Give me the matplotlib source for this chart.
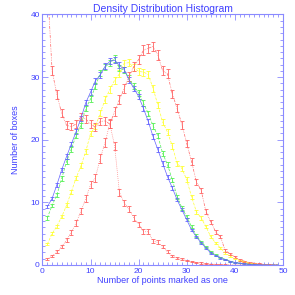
import numpy as np
import matplotlib
matplotlib.use('Agg')
import matplotlib.pyplot as plt
from matplotlib.ticker import MultipleLocator

plt.rcParams['font.family'] = ['Liberation Sans', 'DejaVu Sans']

# points marked as one (x) for every series
n_points = np.arange(1, 50)

blue_y = [9.3, 10.6, 12.8, 15.2, 17.3, 19.3, 21.3, 23.4, 25.9, 27.6,
          29.4, 30.3, 31.7, 32.5, 32.7, 31.9, 31.2, 29.5, 28.2, 26.9,
          25.0, 22.9, 20.5, 18.4, 16.2, 14.1, 12.3, 10.4, 8.8, 7.2,
          5.6, 4.5, 3.5, 2.7, 1.9, 1.5, 1.1, 0.8, 0.6, 0.4,
          0.3, 0.2, 0.1, 0.1, 0.05, 0.03, 0.02, 0.01, 0.0]
blue_err = [0.26, 0.28, 0.30, 0.33, 0.35, 0.37, 0.39, 0.41, 0.43, 0.45,
            0.46, 0.47, 0.48, 0.48, 0.49, 0.48, 0.47, 0.46, 0.45, 0.44,
            0.43, 0.41, 0.38, 0.36, 0.34, 0.32, 0.30, 0.27, 0.25, 0.23,
            0.20, 0.18, 0.16, 0.14, 0.12, 0.10, 0.09, 0.08, 0.07, 0.05,
            0.05, 0.04, 0.03, 0.03, 0.02, 0.01, 0.01, 0.01, 0.0]

green_y = [7.5, 9.5, 11.2, 13.8, 16.5, 18.5, 20.7, 22.3, 25.0, 26.5,
           28.5, 30.6, 31.6, 32.2, 33.0, 31.4, 31.1, 29.8, 28.5, 27.5,
           25.8, 24.2, 22.2, 20.6, 17.8, 16.0, 13.6, 10.9, 9.1, 7.7,
           6.1, 4.7, 3.7, 2.9, 2.1, 1.6, 1.2, 0.9, 0.6, 0.4,
           0.3, 0.2, 0.1, 0.1, 0.05, 0.03, 0.02, 0.01, 0.0]
green_err = [0.25, 0.28, 0.30, 0.33, 0.37, 0.39, 0.41, 0.42, 0.45, 0.46,
             0.48, 0.50, 0.51, 0.51, 0.52, 0.50, 0.50, 0.49, 0.48, 0.47,
             0.46, 0.44, 0.42, 0.41, 0.38, 0.36, 0.33, 0.30, 0.27, 0.25,
             0.22, 0.20, 0.17, 0.15, 0.13, 0.11, 0.10, 0.09, 0.07, 0.06,
             0.05, 0.04, 0.03, 0.03, 0.02, 0.02, 0.01, 0.01, 0.0]

yellow_y = [3.3, 5.0, 6.2, 7.7, 9.5, 11.7, 13.9, 15.8, 18.1, 21.0,
            22.1, 24.2, 26.4, 28.0, 29.5, 30.5, 32.2, 32.3, 31.5, 30.9,
            30.8, 30.4, 28.2, 25.5, 22.8, 21.2, 19.0, 16.2, 15.4, 13.6,
            10.9, 8.5, 7.5, 6.1, 4.5, 3.5, 2.7, 1.9, 1.4, 1.0,
            0.7, 0.5, 0.3, 0.2, 0.1, 0.05, 0.03, 0.02, 0.01]
yellow_err = [0.18, 0.22, 0.25, 0.28, 0.31, 0.34, 0.37, 0.40, 0.43, 0.46,
              0.47, 0.49, 0.51, 0.53, 0.54, 0.55, 0.57, 0.57, 0.56, 0.56,
              0.55, 0.55, 0.53, 0.50, 0.48, 0.46, 0.44, 0.40, 0.39, 0.37,
              0.33, 0.29, 0.27, 0.25, 0.21, 0.19, 0.16, 0.14, 0.12, 0.10,
              0.08, 0.07, 0.05, 0.04, 0.03, 0.02, 0.02, 0.01, 0.01]

red_low_y = [45.0, 31.0, 27.2, 24.2, 22.3, 22.1, 22.5, 23.7, 23.3, 22.5,
             22.0, 22.9, 23.0, 22.5, 24.5, 26.4, 28.2, 30.1, 31.7, 32.8,
             34.3, 34.6, 34.9, 33.5, 31.0, 30.5, 27.3, 25.0, 22.4, 19.4,
             16.5, 13.3, 11.9, 8.5, 6.9, 5.3, 4.5, 2.3, 1.8, 1.3,
             0.8, 0.6, 0.4, 0.3, 0.2, 0.1, 0.05, 0.03, 0.01]
red_low_err = [0.87, 0.72, 0.68, 0.64, 0.61, 0.61, 0.62, 0.63, 0.63, 0.62,
               0.61, 0.62, 0.62, 0.62, 0.64, 0.67, 0.69, 0.71, 0.73, 0.74,
               0.76, 0.76, 0.77, 0.75, 0.72, 0.72, 0.68, 0.65, 0.62, 0.57,
               0.53, 0.47, 0.45, 0.38, 0.34, 0.30, 0.28, 0.20, 0.17, 0.15,
               0.12, 0.10, 0.08, 0.07, 0.06, 0.04, 0.03, 0.02, 0.01]

red_peak_y = [0.9, 1.4, 2.1, 2.9, 4.0, 5.2, 6.7, 8.6, 10.6, 12.8,
              13.9, 17.0, 19.5, 22.6, 19.0, 11.6, 9.9, 8.9, 7.5, 6.5,
              5.3, 5.3, 3.8, 3.6, 2.9, 2.1, 1.4, 1.1, 0.9, 0.7,
              0.5, 0.4, 0.3, 0.2, 0.15, 0.1, 0.08, 0.05, 0.03, 0.02,
              0.01, 0.01, 0.0, 0.0, 0.0, 0.0, 0.0, 0.0, 0.0]
red_peak_err = [0.15, 0.19, 0.23, 0.27, 0.32, 0.36, 0.41, 0.47, 0.52, 0.57,
                0.60, 0.66, 0.71, 0.76, 0.70, 0.54, 0.50, 0.48, 0.44, 0.41,
                0.37, 0.37, 0.31, 0.30, 0.27, 0.23, 0.19, 0.17, 0.15, 0.13,
                0.11, 0.10, 0.09, 0.07, 0.06, 0.05, 0.05, 0.04, 0.03, 0.02,
                0.02, 0.02, 0.0, 0.0, 0.0, 0.0, 0.0, 0.0, 0.0]

axis_color = '#8a8aff'
text_color = '#3f3fff'

fig = plt.figure(figsize=(2.95, 2.95), dpi=100)
ax = fig.add_axes([0.144, 0.102, 0.815, 0.849])

def draw(y, err, color, ls):
    ax.errorbar(n_points, y, yerr=err, color=color, ls=ls, lw=0.5,
                elinewidth=0.6, capsize=1.1, capthick=0.6)

draw(red_peak_y, red_peak_err, '#ff6464', (0, (1, 1.8)))
draw(yellow_y, yellow_err, '#ffff33', (0, (4, 2)))
draw(green_y, green_err, '#55f055', (0, (4, 2)))
draw(blue_y, blue_err, '#6464ff', '-')
draw(red_low_y, red_low_err, '#ff6464', (0, (4, 1.5, 1, 1.5, 1, 1.5, 1, 1.5)))

ax.set_xlim(0, 50)
ax.set_ylim(0, 40)
ax.xaxis.set_major_locator(MultipleLocator(10))
ax.xaxis.set_minor_locator(MultipleLocator(1))
ax.yaxis.set_major_locator(MultipleLocator(10))
ax.yaxis.set_minor_locator(MultipleLocator(1))
ax.tick_params(which='both', direction='in', top=True, right=True,
               color=axis_color, labelcolor=text_color, labelsize=6, pad=2)
ax.tick_params(which='major', length=4, width=0.6)
ax.tick_params(which='minor', length=2, width=0.6)
for s in ax.spines.values():
    s.set_color(axis_color)
    s.set_linewidth(0.8)

ax.set_title('Density Distribution Histogram', color=text_color, fontsize=7.5, pad=2)
ax.set_xlabel('Number of points marked as one', color=text_color, fontsize=6.5, labelpad=1)
ax.set_ylabel('Number of boxes', color=text_color, fontsize=6.5, labelpad=7)

fig.savefig('out.png', dpi=100)
